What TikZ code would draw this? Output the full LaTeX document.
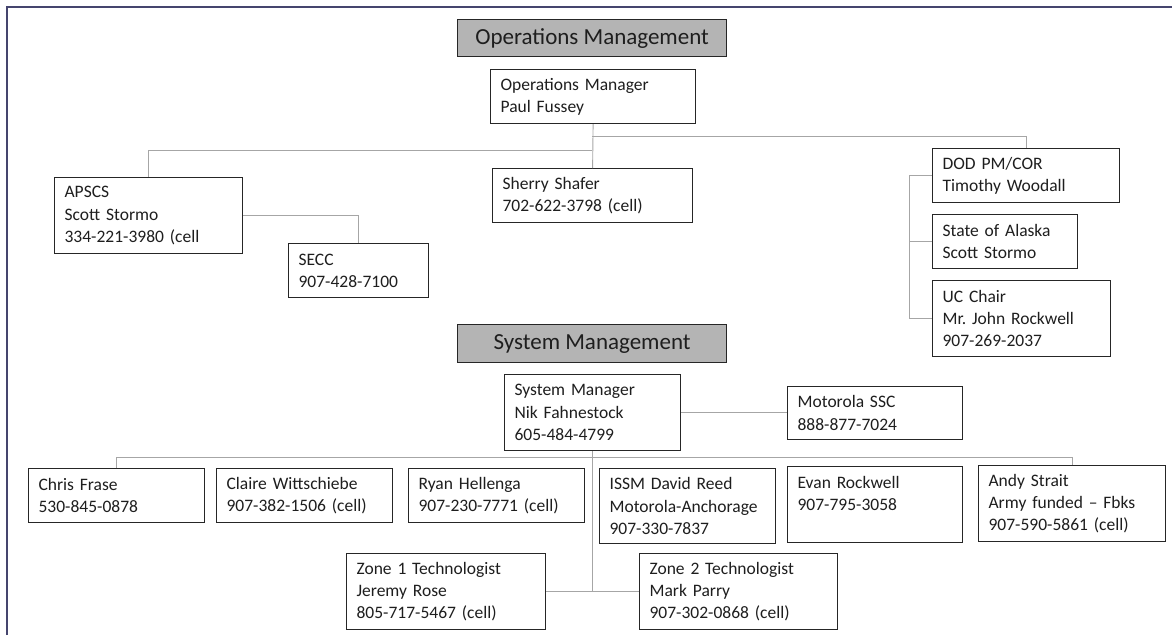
\documentclass[tikz,border=0pt]{standalone}
\usepackage{fontspec}
\setmainfont{Carlito}
\usepackage{tikz}
\usetikzlibrary{positioning}
\definecolor{boxline}{HTML}{262626}
\definecolor{linkline}{HTML}{A6A6A6}
\definecolor{headfill}{HTML}{B4B4B4}
\definecolor{framecol}{HTML}{45456E}
\definecolor{txt}{HTML}{1E1E1E}
\frenchspacing

\begin{document}
\begin{tikzpicture}[x=1pt,y=-1pt,
    card/.style={draw=boxline,line width=1.2pt,fill=white,anchor=north west,align=left,inner xsep=10pt,inner ysep=0pt,text=txt,font=\fontsize{17.5}{22.3}\selectfont},
    head/.style={draw=boxline,line width=1.2pt,fill=headfill,anchor=north west,inner sep=0pt,minimum width=269pt,text=txt,font=\fontsize{23}{27}\selectfont},
    link/.style={draw=linkline,line width=0.9pt}]
  \useasboundingbox (0,0) rectangle (1172,635);
  \draw[framecol,line width=1.4pt] (7,635) -- (7,7) -- (1172,7);

  \node[head,minimum height=37pt](opshead) at (457,19){Operations Management};
  \node[card,text width=185pt,minimum height=54pt](opsmgr) at (490,69){Operations Manager\\Paul Fussey};
  \node[card,text width=168pt,minimum height=76pt](apscs) at (54,177){APSCS\\Scott Stormo\\334-221-3980 (cell};
  \node[card,text width=120pt,minimum height=54pt](secc) at (288,243){SECC\\907-428-7100};
  \node[card,text width=180pt,minimum height=54pt](sherry) at (492,168){Sherry Shafer\\702-622-3798 (cell)};
  \node[card,text width=167pt,minimum height=54pt](dod) at (932,148){DOD PM/COR\\Timothy Woodall};
  \node[card,text width=125pt,minimum height=54pt](alaska) at (932,214){State of Alaska\\Scott Stormo};
  \node[card,text width=158pt,minimum height=76pt](uc) at (932,280){UC Chair\\Mr. John Rockwell\\907-269-2037};

  \node[head,minimum height=38pt](syshead) at (457,324){System Management};
  \node[card,text width=156pt,minimum height=76pt](sysmgr) at (504,374){System Manager\\Nik Fahnestock\\605-484-4799};
  \node[card,text width=155pt,minimum height=53pt](msc) at (787,386){Motorola SSC\\888-877-7024};
  \node[card,text width=156pt,minimum height=54pt](chris) at (28,468){Chris Frase\\530-845-0878};
  \node[card,text width=156pt,minimum height=54pt](claire) at (216,468){Claire Wittschiebe\\907-382-1506 (cell)};
  \node[card,text width=156pt,minimum height=54pt](ryan) at (408,468){Ryan Hellenga\\907-230-7771 (cell)};
  \node[card,text width=156pt,minimum height=75pt](issm) at (599,468){ISSM David Reed\\Motorola-Anchorage\\907-330-7837};
  \node[card,text width=155pt,minimum height=76pt](evan) at (787,466){Evan Rockwell\\907-795-3058\\\mbox{}};
  \node[card,text width=167pt,minimum height=76pt](andy) at (978,465){Andy Strait\\Army funded -- Fbks\\907-590-5861 (cell)};
  \node[card,text width=179pt,minimum height=76pt](zone1) at (346,553){Zone 1 Technologist\\Jeremy Rose\\805-717-5467 (cell)};
  \node[card,text width=178pt,minimum height=76pt](zone2) at (639,553){Zone 2 Technologist\\Mark Parry\\907-302-0868 (cell)};

  \coordinate (opsjoinL) at (592,150);
  \coordinate (opsjoinR) at (592,136);
  \coordinate (bracket) at (909,0);
  \coordinate (rowbus) at (0,457);

  \draw[link] (opsmgr.south) -- (sherry.north);
  \draw[link] (opsjoinL) -| (apscs.north);
  \draw[link] (opsjoinR) -| (dod.north);
  \draw[link] (apscs.east) -| (secc.north);
  \draw[link] (dod.west) -- (dod.west -| bracket) |- (uc.west);
  \draw[link] (alaska.west) -- (alaska.west -| bracket);

  \draw[link] (sysmgr.east) -- (sysmgr.east -| msc.west);
  \draw[link] (sysmgr.south) |- (zone1.east);
  \draw[link] (sysmgr.south) |- (zone2.west);
  \draw[link] (chris.north) -- (chris.north |- rowbus) -- (andy.north |- rowbus) -- (andy.north);
\end{tikzpicture}
\end{document}
